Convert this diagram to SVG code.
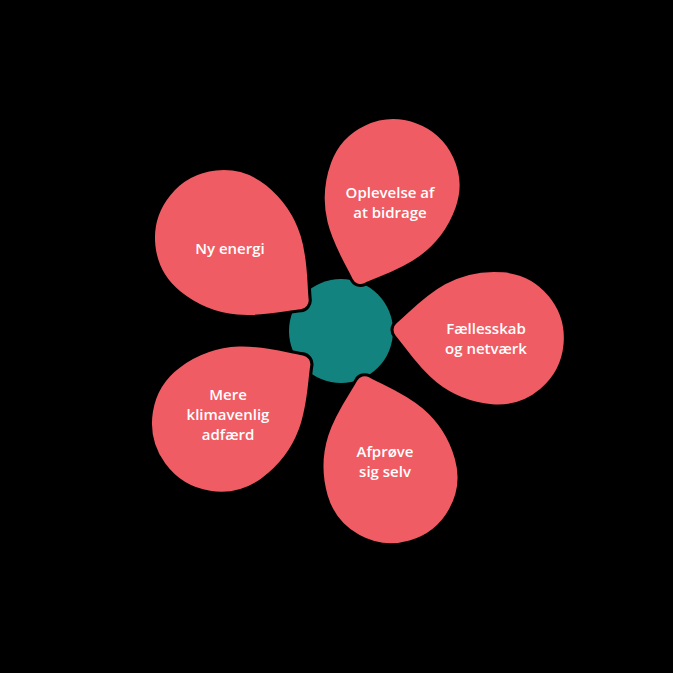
<svg xmlns="http://www.w3.org/2000/svg" width="673" height="673" viewBox="0 0 673 673">
<style>
.petal{fill:#EF5C64;stroke:#000;stroke-width:3;stroke-linejoin:round}
.lbl{font-family:"Open Sans","Noto Sans",sans-serif;font-weight:600;font-size:15px;fill:#fff;text-anchor:middle}
</style>
<defs>
<path id="drop" d="M 3 -7.07 C 22 -26, 48 -67, 105 -67 A 67 67 0 0 1 105 67 C 48 67, 22 26, 3 7.07 A 10 10 0 0 1 3 -7.07 Z"/>
</defs>
<rect width="673" height="673" fill="#000"/>
<g id="center"><circle cx="341" cy="331" r="52" fill="#13837F"/></g>
<g id="petal-top"><use href="#drop" class="petal" transform="translate(357,285) rotate(-70) scale(1.01)"/>
<text class="lbl" x="390" y="198">Oplevelse af</text><text class="lbl" x="390" y="218">at bidrage</text></g>
<g id="petal-right"><use href="#drop" class="petal" transform="translate(392,329) rotate(5) scale(1.01)"/>
<text class="lbl" x="486" y="334">Fællesskab</text><text class="lbl" x="486" y="354">og netværk</text></g>
<g id="petal-bottom"><use href="#drop" class="petal" transform="translate(362,375) rotate(74) scale(1.01)"/>
<text class="lbl" x="385" y="457">Afprøve</text><text class="lbl" x="385" y="477">sig selv</text></g>
<g id="petal-leftbottom"><use href="#drop" class="petal" transform="translate(310,358) rotate(144) scale(1.05)"/>
<text class="lbl" x="228" y="400">Mere</text><text class="lbl" x="228" y="420">klimavenlig</text><text class="lbl" x="228" y="440">adfærd</text></g>
<g id="petal-lefttop"><use href="#drop" class="petal" transform="translate(308,307) rotate(-141) scale(1.04)"/>
<text class="lbl" x="230" y="254">Ny energi</text></g>
</svg>
